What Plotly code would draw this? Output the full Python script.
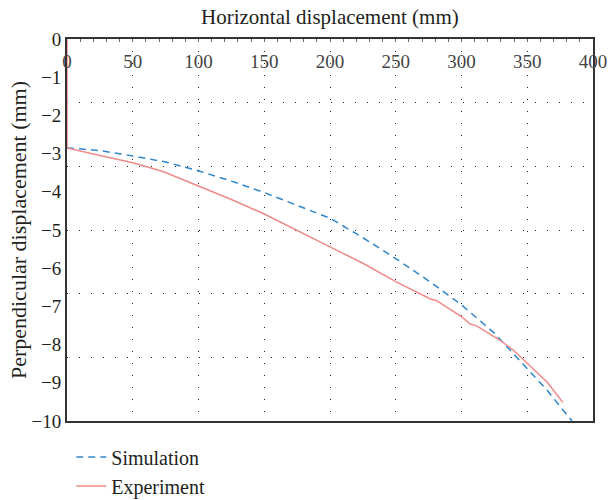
import plotly.graph_objects as go

# Data
sim_x = [0, 25, 50, 75, 100, 125, 150, 175, 200, 225, 250, 275, 300, 325, 350, 365, 375, 384]
sim_y = [-2.85, -2.92, -3.06, -3.22, -3.45, -3.72, -4.02, -4.35, -4.69, -5.2, -5.75, -6.33, -6.96, -7.70, -8.62, -9.19, -9.62, -10.0]

exp_x = [0, 0, 25, 50, 73, 100, 125, 150, 175, 200, 225, 250, 276, 281, 300, 306.5, 311.5, 329, 340, 350, 365, 377]
exp_y = [0, -2.85, -3.05, -3.24, -3.47, -3.85, -4.2, -4.58, -5.0, -5.44, -5.87, -6.35, -6.8, -6.85, -7.27, -7.46, -7.51, -7.88, -8.16, -8.49, -8.98, -9.51]

x_ticks = [0, 50, 100, 150, 200, 250, 300, 350, 400]
y_ticks = [0, -1, -2, -3, -4, -5, -6, -7, -8, -9, -10]
y_tick_text = ["0" if v == 0 else "\u2212" + str(-v) for v in y_ticks]

x_title = "Horizontal displacement (mm)"
y_title = "Perpendicular displacement (mm)"

FONT = "Liberation Serif"
GRID_DASH = "1px,11px"
GRID_COLOR = "#222"

fig = go.Figure()
fig.add_trace(go.Scatter(x=sim_x, y=sim_y, mode="lines", name="Simulation",
                         line=dict(color="#2f86cc", width=1.5, dash="7px,5px")))
fig.add_trace(go.Scatter(x=exp_x, y=exp_y, mode="lines", name="Experiment",
                         line=dict(color="#f08a8a", width=1.5)))

fig.update_layout(
    width=609, height=500,
    margin=dict(l=67, r=16, t=39, b=79, autoexpand=False),
    paper_bgcolor="white", plot_bgcolor="white",
    font=dict(family=FONT, size=19, color="#231f20"),
    showlegend=True,
    legend=dict(x=0.117, xref="container", y=0.125, yref="container",
                xanchor="left", yanchor="top",
                font=dict(family=FONT, size=20), bgcolor="rgba(0,0,0,0)",
                tracegroupgap=0, itemwidth=30),
    xaxis=dict(
        side="top", range=[0, 400], tickvals=x_ticks, ticktext=[str(v) for v in x_ticks],
        ticklabelposition="inside", ticklabeloverflow="allow",
        ticks="inside", ticklen=17, tickcolor="rgba(0,0,0,0)",
        showgrid=True, gridcolor=GRID_COLOR, griddash=GRID_DASH, gridwidth=1, zeroline=False,
        showline=True, linecolor="#333", linewidth=1.5, mirror=True,
        minor=dict(ticks="inside", ticklen=3, dtick=10, tickcolor="#666", showgrid=False),
    ),
    yaxis=dict(
        range=[-10, 0], tickvals=y_ticks, ticktext=y_tick_text, ticks="",
        showgrid=False, zeroline=False,
        showline=True, linecolor="#333", linewidth=2, mirror=True,
        minor=dict(tickmode="linear", tick0=0, dtick=5/3, ticks="",
                   showgrid=True, gridcolor=GRID_COLOR, griddash=GRID_DASH, gridwidth=1),
    ),
    annotations=[
        dict(text=x_title, xref="paper", yref="paper", x=0.5, y=1.058,
             xanchor="center", yanchor="middle", showarrow=False,
             font=dict(family=FONT, size=21)),
        dict(text=y_title, xref="paper", yref="paper", x=-0.093, y=0.5,
             xanchor="center", yanchor="middle", textangle=-90, showarrow=False,
             font=dict(family=FONT, size=22)),
    ],
)

fig.write_html("out.html")
